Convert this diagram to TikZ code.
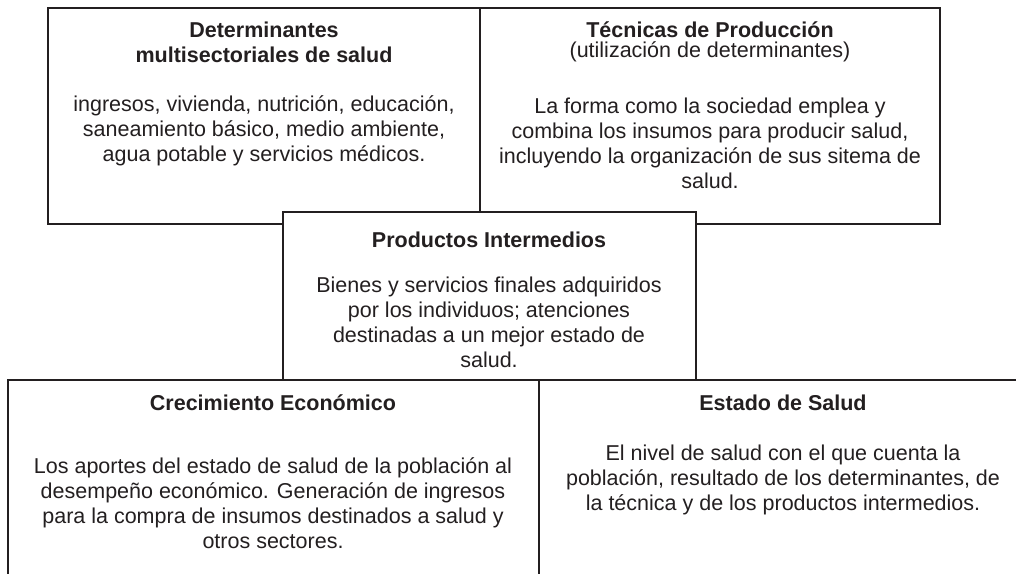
\documentclass[tikz,border=0pt]{standalone}
\usepackage{fontspec}
\setmainfont{Liberation Sans}
\usetikzlibrary{positioning}
\definecolor{ink}{HTML}{231F20}
\tikzset{
  box/.style={draw=ink, line width=1.4pt, fill=white},
  title/.style={font=\fontsize{21.5}{25}\selectfont\bfseries, text=ink, align=center, inner sep=0pt},
  body/.style={font=\fontsize{21.5}{25}\selectfont, text=ink, align=center, inner sep=0pt}
}

\begin{document}
\begin{tikzpicture}[x=1pt, y=-1pt]
            \useasboundingbox (0,0) rectangle (1016,573);
            \clip (0,0) rectangle (1016,573);
            % top boxes
            \draw[box] (48,8) rectangle (480,224);
            \draw[box] (480,8) rectangle (940,224);
            \node[title] (dettitle) at (264,42.5) {Determinantes\\multisectoriales de salud};
            \node[body] (detbody) at (264,131) {ingresos, vivienda, nutrición, educación,\\saneamiento básico, medio ambiente,\\agua potable y servicios médicos.};
            \node[title] (tectitle) at (710,30) {Técnicas de Producción};
            \node[body] (tecsub) at (710,52) {(utilización de determinantes)};
            \node[body] (tecbody) at (710,143.5) {La forma como la sociedad emplea y\\combina los insumos para producir salud,\\incluyendo la organización de sus sitema de\\salud.};
            % middle box, drawn over the top ones
            \draw[box] (283,212) rectangle (696,380);
            \node[title] (protitle) at (489,240) {Productos Intermedios};
            \node[body] (probody) at (489,322.5) {Bienes y servicios finales adquiridos\\por los individuos; atenciones\\destinadas a un mejor estado de\\salud.};
            % bottom boxes, cut by the edge of the page
            \draw[box] (8,380) rectangle (539,600);
            \draw[box] (539,380) rectangle (1050,600);
            \node[title] (cretitle) at (273,403) {Crecimiento Económico};
            \node[body] (crebody) at (273,503.5) {Los aportes del estado de salud de la población al\\desempeño económico. Generación de ingresos\\para la compra de insumos destinados a salud y\\otros sectores.};
            \node[title] (esttitle) at (783,403) {Estado de Salud};
            \node[body] (estbody) at (783,480) {El nivel de salud con el que cuenta la\\población, resultado de los determinantes, de\\la técnica y de los productos intermedios.};
\end{tikzpicture}
\end{document}
